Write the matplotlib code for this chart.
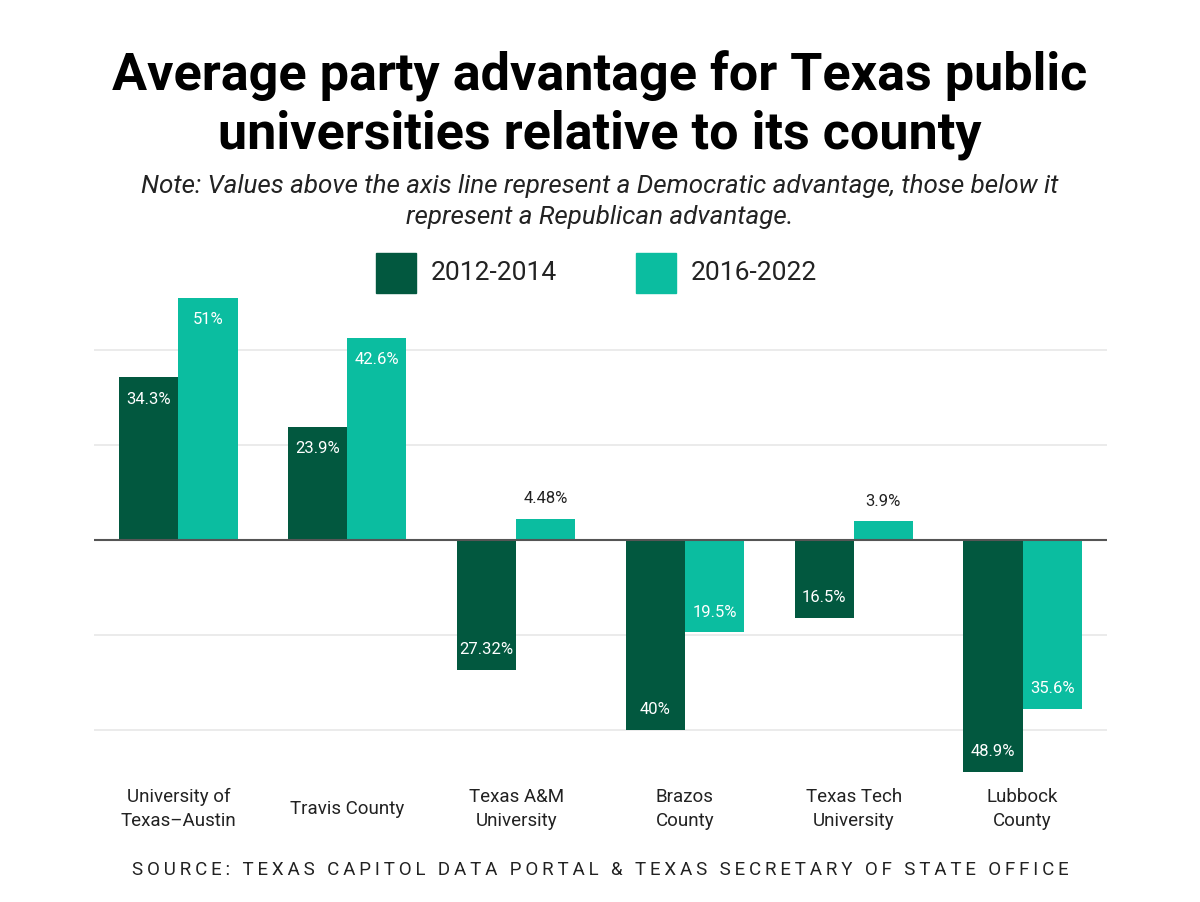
import numpy as np
import matplotlib.pyplot as plt

# data (positive = Democratic advantage, negative = Republican)
categories = ['University of\nTexas–Austin', 'Travis County', 'Texas A&M\nUniversity',
              'Brazos\nCounty', 'Texas Tech\nUniversity', 'Lubbock\nCounty']
early = [34.3, 23.9, -27.32, -40, -16.5, -48.9]
late = [51, 42.6, 4.48, -19.5, 3.9, -35.6]
early_labels = ['34.3%', '23.9%', '27.32%', '40%', '16.5%', '48.9%']
late_labels = ['51%', '42.6%', '4.48%', '19.5%', '3.9%', '35.6%']
series_names = ['2012-2014', '2016-2022']

dark = '#02583f'
light = '#0bbda0'
font = ['Roboto', 'DejaVu Sans']

fig = plt.figure(figsize=(12, 9.02), dpi=100)
ax = fig.add_axes([94 / 1200, 1 - 780 / 902, 1013 / 1200, 490 / 902])

x = np.arange(len(categories))
w = 0.35
b1 = ax.bar(x - w / 2, early, w, color=dark, zorder=3)
b2 = ax.bar(x + w / 2, late, w, color=light, zorder=3)

ax.set_xlim(-0.5, len(categories) - 0.5)
ax.set_ylim(-50.6, 52.7)
for g in [-40, -20, 20, 40]:
    ax.axhline(g, color='#e8e8e8', lw=1.2, zorder=1)
ax.axhline(0, color='#555555', lw=1.5, zorder=4)

for spine in ax.spines.values():
    spine.set_visible(False)
ax.set_yticks([])
ax.set_xticks(x)
ax.set_xticklabels(categories, fontsize=13.5, family=font, color='#222222', linespacing=1.4)
ax.tick_params(axis='x', length=0, pad=21)
for lab in ax.get_xticklabels():
    lab.set_verticalalignment('center')


def label(bars, vals, texts):
    for rect, v, t in zip(bars, vals, texts):
        cx = rect.get_x() + rect.get_width() / 2
        if abs(v) < 8:
            ax.text(cx, v + 4.2, t, ha='center', va='center', fontsize=12,
                    family=font, color='#222222', zorder=5)
        elif v > 0:
            ax.text(cx, v - 4.6, t, ha='center', va='center', fontsize=12,
                    family=font, color='white', zorder=5)
        else:
            ax.text(cx, v + 4.3, t, ha='center', va='center', fontsize=12,
                    family=font, color='white', zorder=5)


label(b1, early, early_labels)
label(b2, late, late_labels)

# title, note, legend, source
fig.text(0.5, 1 - 76 / 902, 'Average party advantage for Texas public', ha='center', va='center',
         fontsize=37.5, fontweight='bold', family=font, color='black')
fig.text(0.5, 1 - 135 / 902, 'universities relative to its county', ha='center', va='center',
         fontsize=37.5, fontweight='bold', family=font, color='black')
fig.text(0.5, 1 - 186 / 902, 'Note: Values above the axis line represent a Democratic advantage, those below it',
         ha='center', va='center', fontsize=18.7, style='italic', family=font, color='#222222')
fig.text(0.5, 1 - 217 / 902, 'represent a Republican advantage.',
         ha='center', va='center', fontsize=18.7, style='italic', family=font, color='#222222')

for px, col, name in [(376, dark, series_names[0]), (636, light, series_names[1])]:
    fig.patches.append(plt.Rectangle((px / 1200, 1 - 293 / 902), 40 / 1200, 40 / 902,
                                     transform=fig.transFigure, color=col))
    fig.text((px + 55) / 1200, 1 - 273 / 902, name, ha='left', va='center',
             fontsize=19, family=font, color='#222222')

source = 'SOURCE: TEXAS CAPITOL DATA PORTAL & TEXAS SECRETARY OF STATE OFFICE'
fig.text(0.5, 1 - 870 / 902, '\u2009'.join(source), ha='center', va='center',
         fontsize=13.5, family=font, color='#222222')

fig.savefig('out.png', dpi=100)
